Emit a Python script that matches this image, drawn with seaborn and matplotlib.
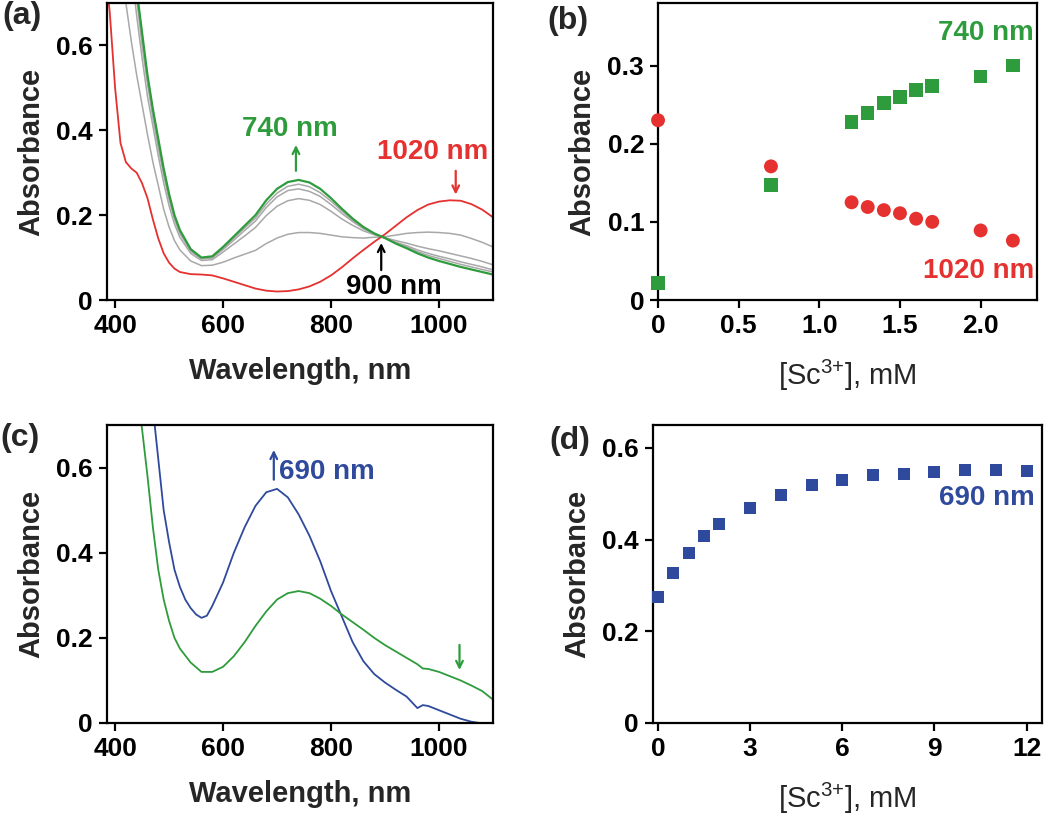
import numpy as np
import matplotlib
matplotlib.use("Agg")
import matplotlib.pyplot as plt
import seaborn as sns

# ─── Data ─────────────────────────────────────────────────────────────────────

GREEN = "#2e9c3c"
RED = "#e5312f"
BLUE = "#2f4a9c"
GREY = "#a8a8a8"

# (a) titration spectra
wl_a = [385, 390, 400, 410, 420, 430, 440, 450, 460, 470, 480, 490, 500, 510,
        520, 540, 560, 580, 600, 620, 640, 660, 680, 700, 720, 740, 760, 780,
        800, 820, 840, 860, 880, 900, 920, 940, 960, 980, 1000, 1020, 1040,
        1060, 1080, 1100]
red_a = [0.74, 0.68, 0.50, 0.37, 0.325, 0.31, 0.30, 0.275, 0.24, 0.19, 0.145,
         0.11, 0.088, 0.074, 0.066, 0.061, 0.060, 0.058, 0.051, 0.043, 0.035,
         0.027, 0.022, 0.020, 0.021, 0.025, 0.032, 0.043, 0.058, 0.077, 0.098,
         0.118, 0.137, 0.155, 0.175, 0.195, 0.212, 0.225, 0.232, 0.235, 0.234,
         0.226, 0.213, 0.195]
grey1_a = [1.19, 1.11, 0.94, 0.80, 0.70, 0.61, 0.53, 0.46, 0.39, 0.325, 0.27,
           0.214, 0.172, 0.14, 0.118, 0.092, 0.081, 0.082, 0.089, 0.099, 0.108,
           0.117, 0.133, 0.146, 0.155, 0.159, 0.159, 0.157, 0.153, 0.149,
           0.147, 0.146, 0.148, 0.149, 0.153, 0.157, 0.159, 0.160, 0.159,
           0.157, 0.153, 0.145, 0.136, 0.125]
grey2_a = [1.45, 1.36, 1.21, 1.06, 0.93, 0.78, 0.67, 0.57, 0.48, 0.41, 0.34,
           0.276, 0.222, 0.179, 0.148, 0.110, 0.093, 0.095, 0.113, 0.132,
           0.151, 0.171, 0.199, 0.221, 0.234, 0.239, 0.235, 0.225, 0.209,
           0.191, 0.176, 0.163, 0.154, 0.147, 0.140, 0.134, 0.127, 0.121,
           0.116, 0.110, 0.104, 0.098, 0.091, 0.083]
grey3_a = [1.53, 1.43, 1.28, 1.13, 0.99, 0.83, 0.71, 0.60, 0.51, 0.43, 0.36,
           0.294, 0.237, 0.19, 0.157, 0.115, 0.097, 0.099, 0.119, 0.141, 0.164,
           0.186, 0.218, 0.243, 0.258, 0.262, 0.256, 0.244, 0.225, 0.204,
           0.185, 0.168, 0.155, 0.146, 0.136, 0.128, 0.118, 0.110, 0.103,
           0.097, 0.090, 0.084, 0.078, 0.071]
grey4_a = [1.57, 1.47, 1.31, 1.17, 1.02, 0.86, 0.73, 0.615, 0.52, 0.44, 0.37,
           0.302, 0.244, 0.195, 0.161, 0.118, 0.098, 0.101, 0.122, 0.146, 0.17,
           0.193, 0.226, 0.252, 0.268, 0.273, 0.267, 0.253, 0.233, 0.21, 0.188,
           0.170, 0.156, 0.146, 0.134, 0.125, 0.114, 0.105, 0.098, 0.091,
           0.084, 0.078, 0.072, 0.066]
green_a = [np.nan, np.nan, np.nan, np.nan, np.nan, 0.85, 0.73, 0.63, 0.53,
           0.45, 0.38, 0.31, 0.25, 0.2, 0.165, 0.12, 0.1, 0.103, 0.125, 0.15,
           0.175, 0.2, 0.235, 0.262, 0.278, 0.283, 0.277, 0.262, 0.24, 0.215,
           0.192, 0.172, 0.157, 0.146, 0.133, 0.122, 0.11, 0.1, 0.092, 0.085,
           0.078, 0.072, 0.066, 0.06]

# (b) absorbance vs [Sc3+]
sc_b = [0.0, 0.7, 1.2, 1.3, 1.4, 1.5, 1.6, 1.7, 2.0, 2.2]
abs740_b = [0.022, 0.147, 0.228, 0.239, 0.252, 0.260, 0.269, 0.274, 0.286, 0.300]
abs1020_b = [0.230, 0.171, 0.125, 0.119, 0.115, 0.111, 0.104, 0.100, 0.089, 0.076]

# (c) two spectra
wl_blue_c = [470, 480, 490, 500, 510, 520, 530, 540, 550, 560, 570, 580, 600,
             620, 640, 660, 680, 700, 720, 740, 760, 780, 800, 820, 840, 860,
             880, 900, 920, 940, 960, 970, 980, 1000, 1020, 1040, 1060, 1075]
blue_c = [0.74, 0.62, 0.50, 0.425, 0.36, 0.32, 0.29, 0.27, 0.255, 0.247, 0.252,
          0.275, 0.33, 0.40, 0.46, 0.51, 0.542, 0.55, 0.53, 0.49, 0.44, 0.38,
          0.31, 0.25, 0.19, 0.145, 0.115, 0.095, 0.078, 0.062, 0.035, 0.042,
          0.040, 0.030, 0.020, 0.010, 0.003, 0.0]
wl_green_c = [445, 450, 460, 470, 480, 490, 500, 510, 520, 540, 560, 580, 600,
              620, 640, 660, 680, 700, 720, 740, 760, 780, 800, 820, 840, 860,
              880, 900, 920, 940, 960, 970, 980, 1000, 1020, 1040, 1060, 1080,
              1100]
green_c = [0.74, 0.69, 0.58, 0.46, 0.36, 0.29, 0.24, 0.20, 0.175, 0.142, 0.12,
           0.12, 0.132, 0.157, 0.19, 0.228, 0.262, 0.29, 0.305, 0.31, 0.305,
           0.292, 0.275, 0.255, 0.237, 0.219, 0.20, 0.183, 0.168, 0.153, 0.138,
           0.128, 0.127, 0.12, 0.11, 0.10, 0.088, 0.075, 0.055]

# (d) 690 nm titration
sc_d = [0, 0.5, 1.0, 1.5, 2.0, 3, 4, 5, 6, 7, 8, 9, 10, 11, 12]
abs690_d = [0.274, 0.327, 0.370, 0.407, 0.434, 0.469, 0.498, 0.520, 0.530,
            0.540, 0.544, 0.547, 0.551, 0.551, 0.549]

# ─── Style ────────────────────────────────────────────────────────────────────

sns.set_theme(style="ticks")
plt.rcParams["font.family"] = ["Liberation Sans", "DejaVu Sans"]
plt.rcParams["mathtext.fontset"] = "custom"
plt.rcParams["mathtext.rm"] = "Liberation Sans"
plt.rcParams["mathtext.it"] = "Liberation Sans"
plt.rcParams["mathtext.bf"] = "Liberation Sans:bold"

TICK_FS = 19
LABEL_FS = 21
NOTE_FS = 20

fig = plt.figure(figsize=(10.5, 8.15), dpi=100)
ax_a = fig.add_axes([0.1019, 0.6319, 0.3676, 0.3644])
ax_b = fig.add_axes([0.6267, 0.6319, 0.3610, 0.3644])
ax_c = fig.add_axes([0.1019, 0.1129, 0.3676, 0.3656])
ax_d = fig.add_axes([0.6219, 0.1129, 0.3705, 0.3656])

SC_LABEL = r"[Sc$^{3{+}}$], mM"


def style_axes(ax, xlabel, xlabel_bold=True):
    for sp in ax.spines.values():
        sp.set_visible(True)
        sp.set_linewidth(1.6)
        sp.set_color("black")
    ax.tick_params(direction="out", length=6, width=1.6, pad=4,
                   labelsize=TICK_FS, colors="black")
    for lab in ax.get_xticklabels() + ax.get_yticklabels():
        lab.set_fontweight("bold")
    ax.set_ylabel("Absorbance", fontsize=LABEL_FS, fontweight="bold",
                  labelpad=8)
    ax.set_xlabel(xlabel, fontsize=LABEL_FS,
                  fontweight="bold" if xlabel_bold else "normal", labelpad=14)
    ax.grid(False)


# ─── (a) ──────────────────────────────────────────────────────────────────────

for ys in [grey1_a, grey2_a, grey3_a, grey4_a]:
    sns.lineplot(x=wl_a, y=ys, ax=ax_a, color=GREY, lw=1.1,
                 estimator=None, sort=False)
sns.lineplot(x=wl_a, y=red_a, ax=ax_a, color=RED, lw=1.3,
             estimator=None, sort=False)
sns.lineplot(x=wl_a, y=green_a, ax=ax_a, color=GREEN, lw=1.6,
             estimator=None, sort=False)
ax_a.set_xlim(385, 1100)
ax_a.set_ylim(0, 0.7)
ax_a.set_xticks([400, 600, 800, 1000])
ax_a.set_yticks([0, 0.2, 0.4, 0.6])
ax_a.set_yticklabels(["0", "0.2", "0.4", "0.6"])
style_axes(ax_a, "Wavelength, nm")

ax_a.text(724, 0.402, "740 nm", color=GREEN, fontsize=NOTE_FS,
          fontweight="bold", ha="center", va="center")
ax_a.annotate("", xy=(735, 0.372), xytext=(735, 0.298),
              arrowprops=dict(arrowstyle="->", color=GREEN, lw=1.6))
ax_a.text(988, 0.348, "1020 nm", color=RED, fontsize=NOTE_FS,
          fontweight="bold", ha="center", va="center")
ax_a.annotate("", xy=(1031, 0.242), xytext=(1031, 0.311),
              arrowprops=dict(arrowstyle="->", color=RED, lw=1.6))
ax_a.text(917, 0.031, "900 nm", color="black", fontsize=NOTE_FS,
          fontweight="bold", ha="center", va="center")
ax_a.annotate("", xy=(893, 0.141), xytext=(893, 0.064),
              arrowprops=dict(arrowstyle="->", color="black", lw=1.6))

# ─── (b) ──────────────────────────────────────────────────────────────────────

sns.scatterplot(x=sc_b, y=abs740_b, ax=ax_b, marker="s", s=95, color=GREEN,
                edgecolor="none", clip_on=False, zorder=3)
sns.scatterplot(x=sc_b, y=abs1020_b, ax=ax_b, marker="o", s=100, color=RED,
                edgecolor="none", clip_on=False, zorder=3)
ax_b.set_xlim(0, 2.35)
ax_b.set_ylim(0, 0.38)
ax_b.set_xticks([0, 0.5, 1.0, 1.5, 2.0])
ax_b.set_xticklabels(["0", "0.5", "1.0", "1.5", "2.0"])
ax_b.set_yticks([0, 0.1, 0.2, 0.3])
ax_b.set_yticklabels(["0", "0.1", "0.2", "0.3"])
style_axes(ax_b, SC_LABEL, xlabel_bold=False)
ax_b.text(2.33, 0.342, "740 nm", color=GREEN, fontsize=NOTE_FS,
          fontweight="bold", ha="right", va="center")
ax_b.text(2.33, 0.037, "1020 nm", color=RED, fontsize=NOTE_FS,
          fontweight="bold", ha="right", va="center")

# ─── (c) ──────────────────────────────────────────────────────────────────────

sns.lineplot(x=wl_blue_c, y=blue_c, ax=ax_c, color=BLUE, lw=1.3,
             estimator=None, sort=False)
sns.lineplot(x=wl_green_c, y=green_c, ax=ax_c, color=GREEN, lw=1.3,
             estimator=None, sort=False)
ax_c.set_xlim(385, 1100)
ax_c.set_ylim(0, 0.7)
ax_c.set_xticks([400, 600, 800, 1000])
ax_c.set_yticks([0, 0.2, 0.4, 0.6])
ax_c.set_yticklabels(["0", "0.2", "0.4", "0.6"])
style_axes(ax_c, "Wavelength, nm")
ax_c.text(703, 0.59, "690 nm", color=BLUE, fontsize=NOTE_FS,
          fontweight="bold", ha="left", va="center")
ax_c.annotate("", xy=(694, 0.648), xytext=(694, 0.565),
              arrowprops=dict(arrowstyle="->", color=BLUE, lw=1.6))
ax_c.annotate("", xy=(1038, 0.118), xytext=(1038, 0.19),
              arrowprops=dict(arrowstyle="->", color=GREEN, lw=1.6))

# ─── (d) ──────────────────────────────────────────────────────────────────────

sns.scatterplot(x=sc_d, y=abs690_d, ax=ax_d, marker="s", s=75, color=BLUE,
                edgecolor="none", clip_on=False, zorder=3)
ax_d.set_xlim(-0.16, 12.5)
ax_d.set_ylim(0, 0.65)
ax_d.set_xticks([0, 3, 6, 9, 12])
ax_d.set_yticks([0, 0.2, 0.4, 0.6])
ax_d.set_yticklabels(["0", "0.2", "0.4", "0.6"])
style_axes(ax_d, SC_LABEL, xlabel_bold=False)
ax_d.text(12.26, 0.491, "690 nm", color=BLUE, fontsize=NOTE_FS,
          fontweight="bold", ha="right", va="center")

# ─── Panel labels ─────────────────────────────────────────────────────────────

for lab, x, y in [("(a)", 0.002, 0.999), ("(b)", 0.521, 0.993),
                  ("(c)", 0.0, 0.481), ("(d)", 0.523, 0.477)]:
    fig.text(x, y, lab, fontsize=23, fontweight="bold", ha="left", va="top")

fig.savefig("out.png", dpi=100)
